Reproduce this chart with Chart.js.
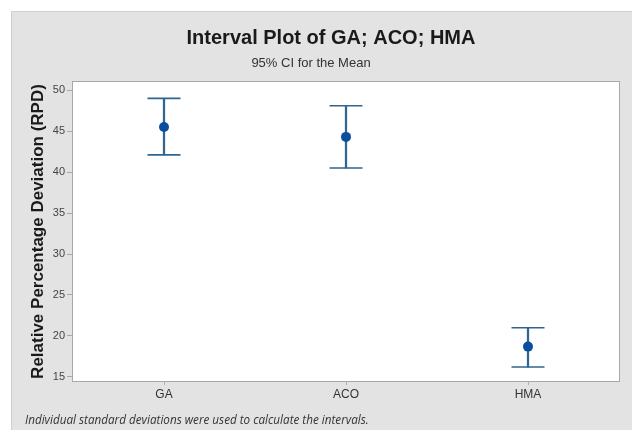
<!DOCTYPE html>
<html>
<head>
<meta charset="utf-8">
<script src="https://cdn.jsdelivr.net/npm/chart.js@4"></script>
<style>
  html, body { margin: 0; padding: 0; background: #fff; }
  #wrap { width: 632px; height: 430px; position: relative; }
</style>
</head>
<body>
<div id="wrap"><canvas id="intervalChart"></canvas></div>
<script>
// data
const categories = ["GA", "ACO", "HMA"];
const means = [45.5, 44.3, 18.7];
const lower = [42.1, 40.5, 16.2];
const upper = [49.0, 48.1, 21.0];
const yTicks = [15, 20, 25, 30, 35, 40, 45, 50];

const titleText = "Interval Plot of GA; ACO; HMA";
const subtitleText = "95% CI for the Mean";
const footnote = "Individual standard deviations were used to calculate the intervals.";

const stemColor = "#2f6590";
const dotColor = "#0b4f9c";

// grey panel, white plot area, plot frame and the texts
const panelPlugin = {
    id: "panel",
    beforeDraw(chart) {
        const ctx = chart.ctx;
        const a = chart.chartArea;
        ctx.save();
        ctx.fillStyle = "#e3e3e3";
        ctx.fillRect(11, 11, chart.width - 11, chart.height - 11);
        ctx.strokeStyle = "#cfcfcf";
        ctx.lineWidth = 1;
        ctx.beginPath();
        ctx.moveTo(11.5, chart.height);
        ctx.lineTo(11.5, 11.5);
        ctx.lineTo(chart.width, 11.5);
        ctx.stroke();
        ctx.fillStyle = "#ffffff";
        ctx.fillRect(a.left, a.top, a.right - a.left, a.bottom - a.top);
        ctx.restore();
    },
    afterDraw(chart) {
        const ctx = chart.ctx;
        const a = chart.chartArea;
        ctx.save();
        ctx.strokeStyle = "#a8a8a8";
        ctx.lineWidth = 1;
        ctx.strokeRect(Math.round(a.left) - 0.5, Math.round(a.top) - 0.5, a.right - a.left + 1, a.bottom - a.top + 1);
        ctx.textAlign = "center";
        ctx.textBaseline = "middle";
        ctx.fillStyle = "#1a1a1a";
        ctx.font = "bold 20px 'Liberation Sans', Arial, sans-serif";
        ctx.fillText(titleText, 331, 38);
        ctx.fillStyle = "#333333";
        ctx.font = "13px 'Liberation Sans', Arial, sans-serif";
        ctx.fillText(subtitleText, 311, 63);
        ctx.textAlign = "left";
        ctx.fillStyle = "#333333";
        ctx.font = "italic 11.7px 'Open Sans', sans-serif";
        ctx.fillText(footnote, 25, 421);
        ctx.restore();
    }
};

new Chart(document.getElementById("intervalChart"), {
    data: {
        labels: categories,
        datasets: [
            {
                type: "line",
                data: means,
                showLine: false,
                pointStyle: "circle",
                pointRadius: 5,
                pointBackgroundColor: dotColor,
                pointBorderColor: dotColor,
                pointBorderWidth: 0,
                order: 0
            },
            {
                type: "line",
                data: upper,
                showLine: false,
                pointStyle: "line",
                pointRadius: 16.5,
                pointBorderColor: stemColor,
                pointBorderWidth: 1.6,
                order: 1
            },
            {
                type: "line",
                data: lower,
                showLine: false,
                pointStyle: "line",
                pointRadius: 16.5,
                pointBorderColor: stemColor,
                pointBorderWidth: 1.6,
                order: 1
            },
            {
                type: "bar",
                data: categories.map((c, i) => [lower[i], upper[i]]),
                backgroundColor: stemColor,
                barThickness: 1.6,
                order: 2
            }
        ]
    },
    options: {
        responsive: true,
        maintainAspectRatio: false,
        animation: false,
        layout: { autoPadding: false, padding: { left: 11, right: 13, top: 82, bottom: 0 } },
        plugins: {
            legend: { display: false },
            tooltip: { enabled: false }
        },
        scales: {
            x: {
                type: "category",
                offset: true,
                grid: { drawOnChartArea: false, offset: false, tickLength: 4, color: "#b0b0b0" },
                border: { display: false },
                ticks: { color: "#333", font: { size: 12, family: "'Liberation Sans', Arial, sans-serif" }, padding: 2 },
                afterFit(scale) {
                    scale.height = 49;
                    scale.paddingLeft = 0;
                    scale.paddingRight = 0;
                }
            },
            y: {
                min: 14.5,
                max: 51,
                afterBuildTicks(scale) { scale.ticks = yTicks.map(v => ({ value: v })); },
                grid: { drawOnChartArea: false, tickLength: 6, color: "#a8a8a8" },
                border: { display: false },
                ticks: { color: "#444", font: { size: 11, family: "'Liberation Sans', Arial, sans-serif" }, padding: 2 },
                title: {
                    display: true,
                    text: "Relative Percentage Deviation (RPD)",
                    color: "#1a1a1a",
                    font: { size: 17, weight: "bold", family: "'Liberation Sans', Arial, sans-serif" },
                    padding: { top: 17, bottom: 0 }
                },
                afterFit(scale) { scale.width = 62; }
            }
        }
    },
    plugins: [panelPlugin]
});
</script>
</body>
</html>
